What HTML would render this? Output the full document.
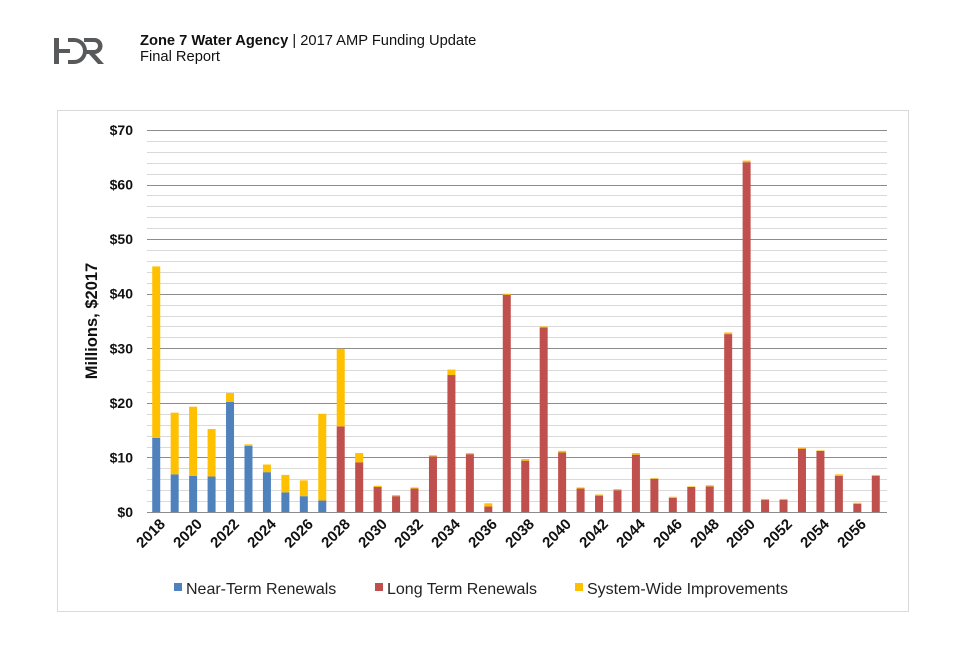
<!DOCTYPE html>
<html><head><meta charset="utf-8"><style>
body{margin:0;background:#fff;width:960px;height:640px;overflow:hidden;font-family:"Liberation Sans",Arial,sans-serif}
</style></head><body>
<svg width="960" height="640" xmlns="http://www.w3.org/2000/svg" font-family="Liberation Sans, Arial, sans-serif">
<g fill="#58595b">
<rect x="54" y="38" width="5" height="26"/>
<rect x="54" y="49" width="16" height="4"/>
<path d="M68 38 h6 a13 13 0 0 1 0 26 h-6 v-4 h6 a9 9 0 0 0 0 -18 h-6z"/>
<path d="M84 38 h10 a8 8 0 0 1 1 16 l9 10 h-6 l-9 -10 h-5 v-4 h10 a4 4 0 0 0 0 -8 h-10z"/>
</g>
<text x="140" y="45" font-size="14.7" fill="#111"><tspan font-weight="bold">Zone 7 Water Agency</tspan> | 2017 AMP Funding Update</text>
<text x="140" y="61" font-size="14.7" fill="#111">Final Report</text>
<rect x="57.5" y="110.5" width="851" height="501" fill="#fff" stroke="#d9d9d9"/>
<g id="grid"></g>
<g id="bars"></g>
<g font-size="14" font-weight="bold" fill="#111" text-anchor="end">
<text x="133" y="517">$0</text><text x="133" y="462.4">$10</text><text x="133" y="407.8">$20</text><text x="133" y="353.3">$30</text><text x="133" y="298.7">$40</text><text x="133" y="244.1">$50</text><text x="133" y="189.6">$60</text><text x="133" y="135">$70</text>
</g>
<text transform="translate(97,321) rotate(-90)" font-size="16.5" font-weight="bold" fill="#111" text-anchor="middle">Millions, $2017</text>
<g font-size="15" font-weight="bold" fill="#111" text-anchor="end">
<text transform="translate(166,525) rotate(-45)">2018</text>
<text transform="translate(203,525) rotate(-45)">2020</text>
<text transform="translate(240,525) rotate(-45)">2022</text>
<text transform="translate(277,525) rotate(-45)">2024</text>
<text transform="translate(314,525) rotate(-45)">2026</text>
<text transform="translate(351,525) rotate(-45)">2028</text>
<text transform="translate(388,525) rotate(-45)">2030</text>
<text transform="translate(424,525) rotate(-45)">2032</text>
<text transform="translate(461,525) rotate(-45)">2034</text>
<text transform="translate(498,525) rotate(-45)">2036</text>
<text transform="translate(535,525) rotate(-45)">2038</text>
<text transform="translate(572,525) rotate(-45)">2040</text>
<text transform="translate(609,525) rotate(-45)">2042</text>
<text transform="translate(646,525) rotate(-45)">2044</text>
<text transform="translate(683,525) rotate(-45)">2046</text>
<text transform="translate(720,525) rotate(-45)">2048</text>
<text transform="translate(756,525) rotate(-45)">2050</text>
<text transform="translate(793,525) rotate(-45)">2052</text>
<text transform="translate(830,525) rotate(-45)">2054</text>
<text transform="translate(867,525) rotate(-45)">2056</text>
</g>
<g font-size="16" fill="#222">
<rect x="174" y="583" width="8" height="8" fill="#4f81bd"/><text x="186" y="594">Near-Term Renewals</text>
<rect x="375" y="583" width="8" height="8" fill="#c0504d"/><text x="387" y="594">Long Term Renewals</text>
<rect x="575" y="583" width="8" height="8" fill="#ffc000"/><text x="587" y="594">System-Wide Improvements</text>
</g>
</svg>
<script>
var ns="http://www.w3.org/2000/svg",g=document.getElementById('grid'),b=document.getElementById('bars');
function el(p,t,a){var e=document.createElementNS(ns,t);for(var k in a)e.setAttribute(k,a[k]);p.appendChild(e);}
var k=382/70,y0=512;
for(var v=0;v<=70;v+=2){var y=Math.round(y0-v*k)+0.5;el(g,'line',{x1:147,x2:887,y1:y,y2:y,stroke:v%10==0?'#8c8c8c':'#d9d9d9','stroke-width':1});}
var d=[[13.6,0,45],[6.9,0,18.2],[6.6,0,19.3],[6.5,0,15.2],[20.2,0,21.8],[12.1,0,12.4],[7.3,0,8.7],[3.6,0,6.8],[2.9,0,5.8],[2.1,0,18],
[0,15.7,29.9],[0,9.1,10.8],[0,4.6,4.8],[0,2.9,3.1],[0,4.3,4.5],[0,10.2,10.4],[0,25.1,26.1],[0,10.6,10.8],[0,1.0,1.6],[0,39.8,40],
[0,9.4,9.7],[0,33.8,34],[0,10.9,11.2],[0,4.3,4.5],[0,3.0,3.2],[0,4.0,4.2],[0,10.5,10.8],[0,6.1,6.2],[0,2.6,2.8],[0,4.6,4.7],
[0,4.7,4.9],[0,32.6,32.9],[0,64.1,64.4],[0,2.2,2.4],[0,2.2,2.4],[0,11.6,11.8],[0,11.2,11.3],[0,6.6,6.9],[0,1.5,1.7],[0,6.6,6.8]];
d.forEach(function(r,i){var cx=147+18.45*(i+0.5),x=cx-4,base=r[0]+r[1];
 if(r[0])el(b,'rect',{x:x,y:y0-r[0]*k,width:8,height:r[0]*k,fill:'#4f81bd'});
 if(r[1])el(b,'rect',{x:x,y:y0-r[1]*k,width:8,height:r[1]*k,fill:'#c0504d'});
 if(r[2]>base)el(b,'rect',{x:x,y:y0-r[2]*k,width:8,height:(r[2]-base)*k,fill:'#ffc000'});});
</script>
</body></html>
